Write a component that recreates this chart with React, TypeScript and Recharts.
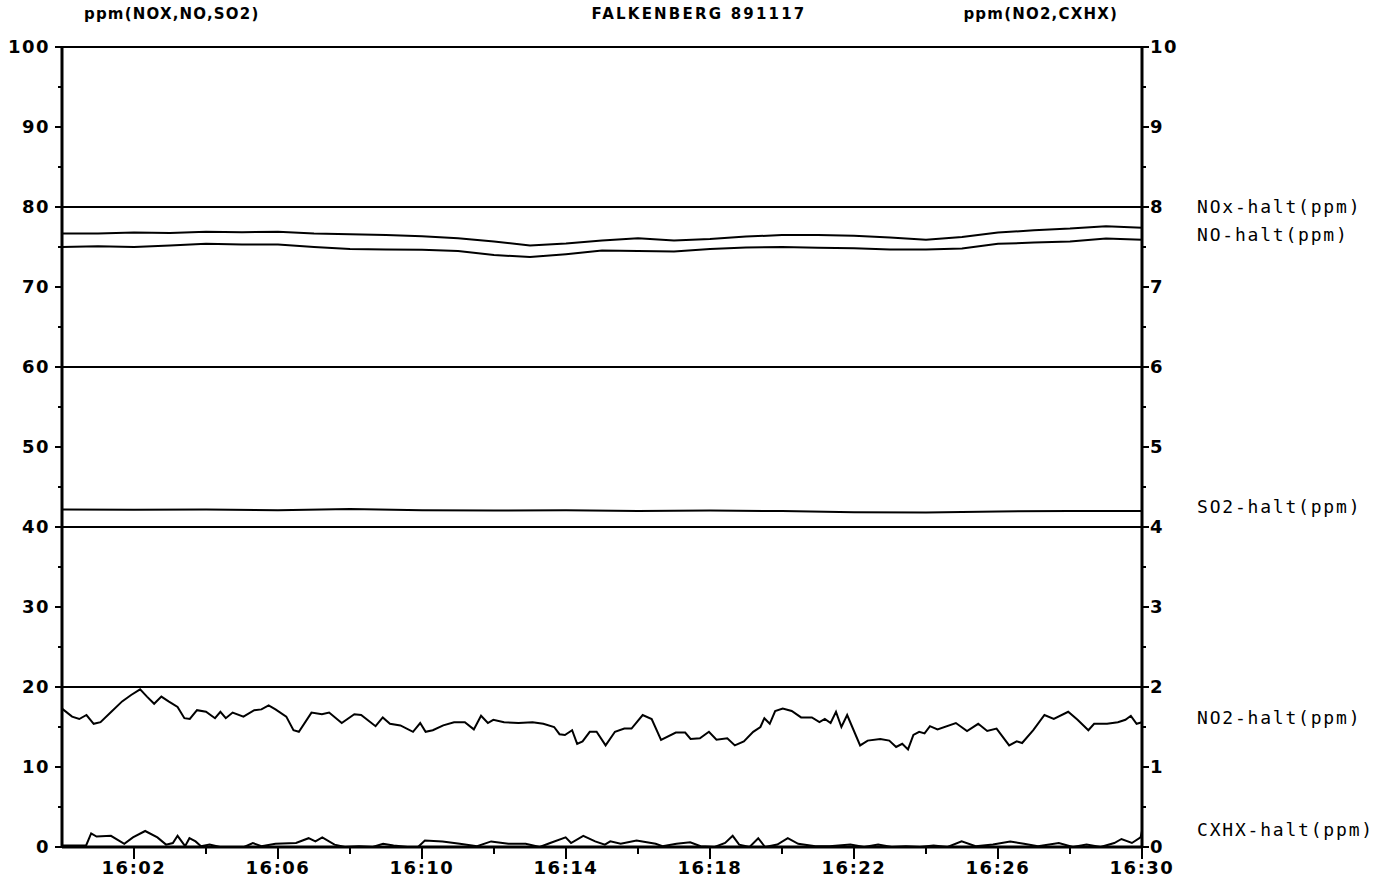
import React from 'react';
import { LineChart, Line, XAxis, YAxis, ReferenceLine } from 'recharts';

// minutes after 16:00
const slowMinutes = [0, 1, 2, 3, 4, 5, 6, 7, 8, 9, 10, 11, 12, 13, 14, 15, 16, 17, 18, 19, 20, 21, 22, 23, 24, 25, 26, 27, 28, 29, 30];
const noxPpm = [76.7, 76.7, 76.8, 76.75, 76.9, 76.85, 76.9, 76.7, 76.6, 76.5, 76.35, 76.1, 75.7, 75.2, 75.45, 75.8, 76.1, 75.8, 76.0, 76.3, 76.5, 76.5, 76.4, 76.2, 75.9, 76.25, 76.8, 77.1, 77.3, 77.6, 77.4];
const noPpm = [75.0, 75.1, 75.0, 75.2, 75.4, 75.3, 75.3, 75.0, 74.75, 74.7, 74.65, 74.5, 74.0, 73.75, 74.1, 74.55, 74.5, 74.45, 74.75, 74.95, 75.0, 74.9, 74.85, 74.7, 74.7, 74.8, 75.4, 75.55, 75.7, 76.05, 75.9];

const so2Minutes = [0, 2, 4, 6, 8, 10, 12, 14, 16, 18, 20, 22, 24, 26, 28, 30];
const so2Ppm = [42.2, 42.15, 42.2, 42.1, 42.25, 42.1, 42.05, 42.1, 42.0, 42.05, 42.0, 41.85, 41.8, 41.95, 42.0, 42.0];

const no2Minutes = [
  0, 0.28, 0.48, 0.68, 0.88, 1.07, 1.37, 1.67, 1.92, 2.17, 2.36, 2.56, 2.76, 2.96, 3.21, 3.4, 3.55, 3.75, 4.0, 4.25,
  4.4, 4.55, 4.74, 5.04, 5.34, 5.54, 5.74, 5.93, 6.23, 6.43, 6.58, 6.93, 7.22, 7.42, 7.77, 8.12, 8.31, 8.71, 8.91, 9.11,
  9.4, 9.75, 9.95, 10.1, 10.3, 10.59, 10.89, 11.19, 11.44, 11.64, 11.83, 11.98, 12.28, 12.68, 13.07, 13.37, 13.67, 13.82, 13.97, 14.17,
  14.31, 14.46, 14.66, 14.85, 15.1, 15.36, 15.62, 15.82, 16.13, 16.38, 16.64, 17.05, 17.31, 17.46, 17.72, 17.97, 18.18, 18.48, 18.69, 18.94,
  19.2, 19.4, 19.51, 19.66, 19.81, 20.02, 20.27, 20.53, 20.83, 21.04, 21.19, 21.35, 21.5, 21.65, 21.81, 22.17, 22.38, 22.73, 22.98, 23.17,
  23.34, 23.5, 23.65, 23.81, 23.96, 24.11, 24.32, 24.83, 25.14, 25.45, 25.7, 25.96, 26.31, 26.52, 26.67, 26.98, 27.29, 27.55, 27.95, 28.21,
  28.51, 28.67, 29.03, 29.33, 29.54, 29.69, 29.85, 30,
];
const no2Ppm = [
  1.73, 1.63, 1.6, 1.65, 1.54, 1.56, 1.69, 1.82, 1.9, 1.97, 1.88, 1.79, 1.88, 1.82, 1.75, 1.61, 1.6, 1.71, 1.69, 1.61,
  1.69, 1.61, 1.68, 1.63, 1.71, 1.72, 1.77, 1.72, 1.63, 1.46, 1.44, 1.68, 1.66, 1.68, 1.55, 1.66, 1.65, 1.51, 1.62, 1.54,
  1.52, 1.44, 1.55, 1.44, 1.46, 1.52, 1.56, 1.56, 1.47, 1.64, 1.55, 1.59, 1.56, 1.55, 1.56, 1.54, 1.5, 1.41, 1.4, 1.46,
  1.29, 1.32, 1.44, 1.44, 1.27, 1.44, 1.48, 1.48, 1.65, 1.6, 1.34, 1.43, 1.43, 1.35, 1.36, 1.44, 1.34, 1.36, 1.27, 1.32,
  1.44, 1.5, 1.61, 1.54, 1.7, 1.73, 1.7, 1.62, 1.62, 1.56, 1.6, 1.55, 1.69, 1.5, 1.65, 1.27, 1.33, 1.35, 1.33, 1.25,
  1.29, 1.22, 1.4, 1.44, 1.42, 1.51, 1.47, 1.55, 1.45, 1.54, 1.45, 1.48, 1.27, 1.32, 1.3, 1.46, 1.65, 1.6, 1.69, 1.59,
  1.46, 1.54, 1.54, 1.56, 1.59, 1.64, 1.54, 1.56,
];

const cxhxMinutes = [
  0, 0.67, 0.81, 0.96, 1.36, 1.73, 1.97, 2.31, 2.65, 2.89, 3.08, 3.21, 3.42, 3.54, 3.71, 3.86, 4.1, 4.39, 5.06, 5.3,
  5.54, 5.93, 6.5, 6.85, 7.04, 7.23, 7.57, 7.86, 8.25, 8.63, 8.92, 9.21, 9.6, 9.89, 10.08, 10.57, 11.05, 11.53, 11.92, 12.4,
  12.88, 13.27, 13.56, 13.99, 14.14, 14.48, 14.81, 15.08, 15.23, 15.52, 15.96, 16.49, 16.68, 17.07, 17.45, 17.74, 18.13, 18.42, 18.63, 18.81,
  19.1, 19.34, 19.53, 19.87, 20.16, 20.45, 20.93, 21.32, 21.9, 22.28, 22.67, 23.05, 23.44, 23.83, 24.21, 24.6, 24.99, 25.38, 25.86, 26.34,
  26.72, 27.11, 27.69, 28.08, 28.46, 28.85, 29.23, 29.43, 29.72, 29.96, 30,
];
const cxhxPpm = [
  0.02, 0.02, 0.17, 0.13, 0.14, 0.04, 0.12, 0.2, 0.12, 0.03, 0.05, 0.14, 0.01, 0.11, 0.07, 0.01, 0.03, 0, 0, 0.05,
  0.01, 0.04, 0.05, 0.11, 0.07, 0.12, 0.03, 0, 0.01, 0, 0.04, 0.02, 0, 0, 0.08, 0.07, 0.04, 0.01, 0.07, 0.04,
  0.04, 0, 0.05, 0.12, 0.05, 0.14, 0.07, 0.03, 0.07, 0.04, 0.08, 0.04, 0.01, 0.04, 0.06, 0.01, 0, 0.05, 0.14, 0.03,
  0, 0.11, 0, 0.03, 0.11, 0.04, 0.01, 0.01, 0.03, 0, 0.03, 0, 0.01, 0, 0.02, 0, 0.07, 0.01, 0.03, 0.07,
  0.04, 0.01, 0.05, 0, 0.03, 0, 0.05, 0.1, 0.05, 0.12, 0.2,
];

const leftTicks = [0, 5, 10, 15, 20, 25, 30, 35, 40, 45, 50, 55, 60, 65, 70, 75, 80, 85, 90, 95, 100];
const rightTicks = [0, 0.5, 1, 1.5, 2, 2.5, 3, 3.5, 4, 4.5, 5, 5.5, 6, 6.5, 7, 7.5, 8, 8.5, 9, 9.5, 10];
const timeTicks = [2, 4, 6, 8, 10, 12, 14, 16, 18, 20, 22, 24, 26, 28, 30];
const gridLevels = [20, 40, 60, 80, 100];

const seriesLabels = [
  { text: 'NOx-halt(ppm)', y: 213 },
  { text: 'NO-halt(ppm)', y: 241 },
  { text: 'SO2-halt(ppm)', y: 513 },
  { text: 'NO2-halt(ppm)', y: 724 },
  { text: 'CXHX-halt(ppm)', y: 836 },
];

const zip = (ts: number[], vs: number[]) => ts.map((t, i) => ({ t, v: vs[i] }));

const boldFont: React.CSSProperties = {
  fontFamily: 'DejaVu Sans, sans-serif',
  fontWeight: 'bold',
  fontSize: 18,
  letterSpacing: 1.5,
  fill: '#000',
};

const titleFont: React.CSSProperties = { ...boldFont, fontSize: 15, letterSpacing: 1.2 };

const labelFont: React.CSSProperties = {
  fontFamily: 'DejaVu Sans Mono, monospace',
  fontSize: 18,
  letterSpacing: 1.8,
  fill: '#000',
};

const LeftTick = (props: any) => {
  const { x, y, payload } = props;
  const major = payload.value % 10 === 0;
  return (
    <g>
      <line x1={x} x2={x - (major ? 7 : 4)} y1={y} y2={y} stroke="#000" strokeWidth={2} />
      {major && (
        <text x={x - 12} y={y} dy="0.36em" textAnchor="end" style={boldFont}>
          {payload.value}
        </text>
      )}
    </g>
  );
};

const RightTick = (props: any) => {
  const { x, y, payload } = props;
  const major = Number.isInteger(payload.value);
  return (
    <g>
      <line x1={x} x2={x + (major ? 7 : 4)} y1={y} y2={y} stroke="#000" strokeWidth={2} />
      {major && (
        <text x={x + 8} y={y} dy="0.36em" textAnchor="start" style={boldFont}>
          {payload.value}
        </text>
      )}
    </g>
  );
};

const TimeTick = (props: any) => {
  const { x, y, payload } = props;
  const major = (payload.value - 2) % 4 === 0;
  const mm = String(payload.value).padStart(2, '0');
  return (
    <g>
      <line x1={x} x2={x} y1={y} y2={y + (major ? 12 : 7)} stroke="#000" strokeWidth={2} />
      {major && (
        <text x={x} y={y + 27} textAnchor="middle" style={boldFont}>
          {`16:${mm}`}
        </text>
      )}
    </g>
  );
};

export default function App() {
  return (
    <div style={{ position: 'absolute', left: 0, top: 0, width: 1381, height: 888, background: '#fff' }}>
      <LineChart width={1381} height={888} margin={{ top: 47, right: 194, left: 12, bottom: 6 }}>
        <XAxis
          xAxisId="t"
          dataKey="t"
          type="number"
          domain={[0, 30]}
          ticks={timeTicks}
          interval={0}
          height={35}
          tickSize={0}
          tickMargin={0}
          tickLine={false}
          axisLine={{ stroke: '#000', strokeWidth: 3 }}
          tick={<TimeTick />}
        />
        <YAxis
          yAxisId="left"
          orientation="left"
          domain={[0, 100]}
          ticks={leftTicks}
          interval={0}
          width={50}
          tickSize={0}
          tickMargin={0}
          tickLine={false}
          axisLine={{ stroke: '#000', strokeWidth: 3 }}
          tick={<LeftTick />}
        />
        <YAxis
          yAxisId="right"
          orientation="right"
          domain={[0, 10]}
          ticks={rightTicks}
          interval={0}
          width={45}
          tickSize={0}
          tickMargin={0}
          tickLine={false}
          axisLine={{ stroke: '#000', strokeWidth: 3 }}
          tick={<RightTick />}
        />
        {gridLevels.map((g) => (
          <ReferenceLine key={g} xAxisId="t" yAxisId="left" y={g} stroke="#000" strokeWidth={2} />
        ))}
        <Line xAxisId="t" yAxisId="left" data={zip(slowMinutes, noxPpm)} dataKey="v" type="linear" stroke="#000" strokeWidth={2} dot={false} isAnimationActive={false} />
        <Line xAxisId="t" yAxisId="left" data={zip(slowMinutes, noPpm)} dataKey="v" type="linear" stroke="#000" strokeWidth={2} dot={false} isAnimationActive={false} />
        <Line xAxisId="t" yAxisId="left" data={zip(so2Minutes, so2Ppm)} dataKey="v" type="linear" stroke="#000" strokeWidth={2} dot={false} isAnimationActive={false} />
        <Line xAxisId="t" yAxisId="right" data={zip(no2Minutes, no2Ppm)} dataKey="v" type="linear" stroke="#000" strokeWidth={2} dot={false} isAnimationActive={false} />
        <Line xAxisId="t" yAxisId="right" data={zip(cxhxMinutes, cxhxPpm)} dataKey="v" type="linear" stroke="#000" strokeWidth={2} dot={false} isAnimationActive={false} />
      </LineChart>
      <svg width={1381} height={888} style={{ position: 'absolute', left: 0, top: 0, pointerEvents: 'none' }}>
        <text x={84} y={19} style={titleFont}>ppm(NOX,NO,SO2)</text>
        <text x={699} y={19} textAnchor="middle" style={{ ...titleFont, letterSpacing: 2.2 }}>FALKENBERG 891117</text>
        <text x={1118} y={19} textAnchor="end" style={titleFont}>ppm(NO2,CXHX)</text>
        {seriesLabels.map((l) => (
          <text key={l.text} x={1197} y={l.y} style={labelFont}>
            {l.text}
          </text>
        ))}
      </svg>
    </div>
  );
}
